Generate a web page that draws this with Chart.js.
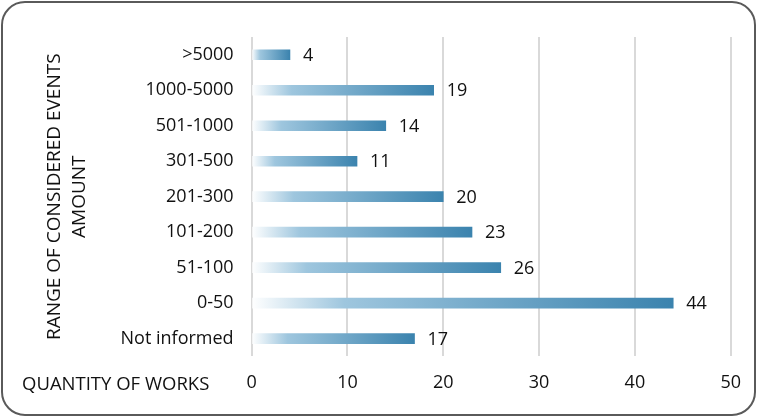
<!DOCTYPE html>
<html>
<head>
<meta charset="utf-8">
<script src="https://cdn.jsdelivr.net/npm/chart.js@4.4.1/dist/chart.umd.min.js"></script>
<style>
    html, body { margin: 0; padding: 0; background: #fff; }
    .chart-container { position: relative; width: 757px; height: 418px; }
    .frame {
        position: absolute; left: 1px; top: 1px; width: 755px; height: 415px;
        box-sizing: border-box; border: 2px solid #5a5a5a; border-radius: 24px;
        pointer-events: none;
    }
</style>
</head>
<body>
<div class="chart-container">
    <canvas id="worksChart" width="757" height="418"></canvas>
    <div class="frame"></div>
</div>
<script>
const ranges = [">5000", "1000-5000", "501-1000", "301-500", "201-300", "101-200", "51-100", "0-50", "Not informed"];
const works = [4, 19, 14, 11, 20, 23, 26, 44, 17];
const xTicks = [0, 10, 20, 30, 40, 50];
const xTitle = "QUANTITY OF WORKS";
const yTitle = ["RANGE OF CONSIDERED EVENTS", "AMOUNT"];

const fontFamily = '"Open Sans", sans-serif';
const fontSize = 18;
const textColor = "#111111";

// white -> blue fade over the length of each bar
const barFill = (c) => {
    const chart = c.chart;
    const xScale = chart.scales.x;
    if (!chart.chartArea || !xScale || c.raw === undefined) return "#4a8db8";
    const x0 = xScale.getPixelForValue(0);
    const x1 = xScale.getPixelForValue(c.raw);
    if (x1 - x0 < 1) return "#4a8db8";
    const g = chart.ctx.createLinearGradient(x0, 0, x1, 0);
    g.addColorStop(0, "#ffffff");
    g.addColorStop(0.22, "#9ec6de");
    g.addColorStop(1, "#3b83ae");
    return g;
};

const valueLabels = {
    id: "valueLabels",
    afterDatasetsDraw(chart) {
        const ctx = chart.ctx;
        const meta = chart.getDatasetMeta(0);
        ctx.save();
        ctx.font = fontSize + "px " + fontFamily;
        ctx.fillStyle = textColor;
        ctx.textBaseline = "middle";
        ctx.textAlign = "left";
        meta.data.forEach((bar, i) => {
            ctx.fillText(String(works[i]), bar.x + 13, bar.y + 1);
        });
        // x axis title sits at the left, on the tick label line
        const xScale = chart.scales.x;
        ctx.font = "18.5px " + fontFamily;
        ctx.fillText(xTitle, 22, xScale.top + 28);
        ctx.restore();
    },
};

let ctx = document.getElementById("worksChart").getContext("2d");

window.worksChart = new Chart(ctx, {
    type: "bar",
    data: {
        labels: ranges,
        datasets: [
            {
                data: works,
                backgroundColor: barFill,
                barThickness: 10,
            },
        ],
    },
    options: {
        indexAxis: "y",
        responsive: false,
        animation: false,
        layout: {
            padding: { left: 42, right: 26, top: 37, bottom: 8 },
        },
        scales: {
            x: {
                min: 0,
                max: 50,
                afterBuildTicks: (axis) => {
                    axis.ticks = xTicks.map((v) => ({ value: v }));
                },
                grid: {
                    color: "#d9d9d9",
                    lineWidth: 2,
                    drawTicks: false,
                },
                border: { display: false },
                ticks: {
                    padding: 16,
                    color: textColor,
                    font: { family: fontFamily, size: fontSize },
                },
            },
            y: {
                grid: { display: false },
                border: { display: false },
                ticks: {
                    padding: 10,
                    color: textColor,
                    font: { family: fontFamily, size: fontSize },
                },
                title: {
                    display: true,
                    text: yTitle,
                    color: textColor,
                    font: { family: fontFamily, size: 19, lineHeight: 1.33 },
                    padding: { top: 0, bottom: 18 },
                },
            },
        },
        plugins: {
            legend: { display: false },
            tooltip: { enabled: false },
        },
    },
    plugins: [valueLabels],
});
</script>
</body>
</html>
